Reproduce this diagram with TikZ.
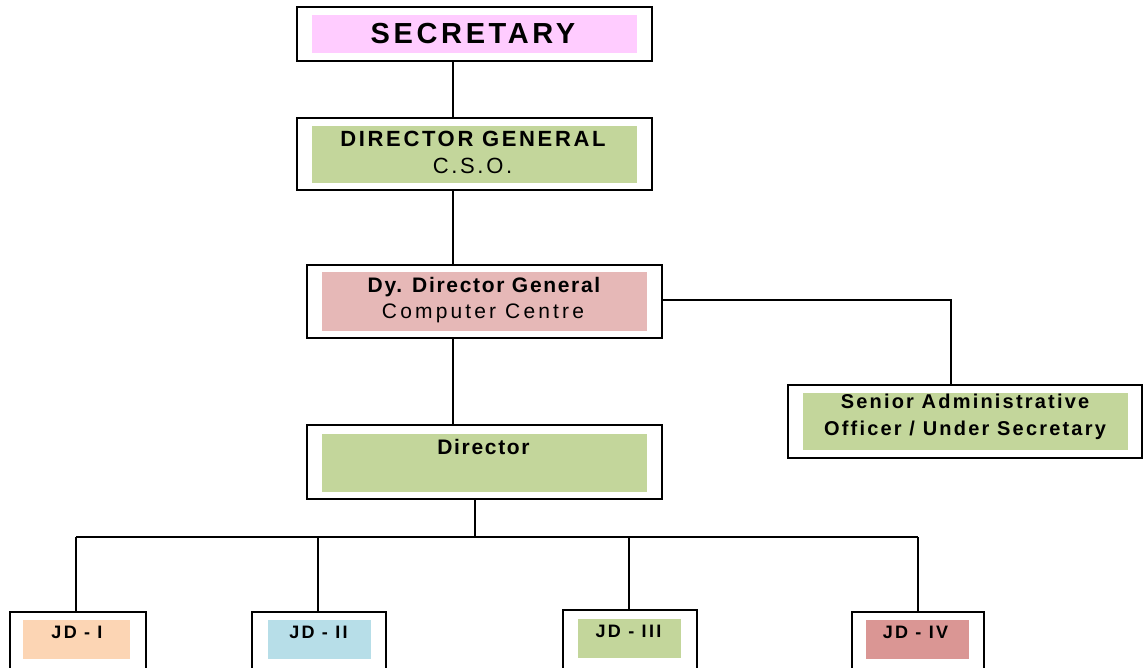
\documentclass[tikz,border=0pt]{standalone}
\usepackage{fontspec}
\setmainfont{Liberation Sans}
\newfontfamily\lsSec[LetterSpace=12.5]{Liberation Sans}
\newfontfamily\lsDG[LetterSpace=12]{Liberation Sans}
\newfontfamily\lsDy[LetterSpace=8]{Liberation Sans}
\newfontfamily\lsCC[LetterSpace=15]{Liberation Sans}
\newfontfamily\lsSAO[LetterSpace=11]{Liberation Sans}
\newfontfamily\lsJD[LetterSpace=13]{Liberation Sans}
\definecolor{pinkS}{HTML}{FFCCFF}
\definecolor{greenB}{HTML}{C3D69B}
\definecolor{roseB}{HTML}{E6B8B7}
\definecolor{peachB}{HTML}{FCD5B4}
\definecolor{blueB}{HTML}{B7DEE8}
\definecolor{redB}{HTML}{DA9694}
\begin{document}
\begin{tikzpicture}[x=1pt,y=-1pt,
  obox/.style={draw=black, line width=1.6pt, fill=white, inner sep=0pt, outer sep=0pt},
  ibox/.style={draw=none, inner sep=0pt, outer sep=0pt},
  txt/.style={inner sep=0pt, anchor=base},
  conn/.style={draw=black, line width=1.6pt}]
\useasboundingbox (0,0) rectangle (1143,667);
% outer boxes
\node[obox, minimum width=355pt, minimum height=54pt] (sec) at (474.5,34) {};
\node[obox, minimum width=355pt, minimum height=72pt] (dg) at (474.5,154) {};
\node[obox, minimum width=355pt, minimum height=73pt] (dydg) at (484.5,301.5) {};
\node[obox, minimum width=355pt, minimum height=74pt] (dir) at (484.5,462) {};
\node[obox, minimum width=354pt, minimum height=73pt] (sao) at (965,421.5) {};
\node[obox, minimum width=136pt, minimum height=60pt] (jd1) at (78,642) {};
\node[obox, minimum width=134pt, minimum height=60pt] (jd2) at (319,642) {};
\node[obox, minimum width=134pt, minimum height=62pt] (jd3) at (630,641) {};
\node[obox, minimum width=132pt, minimum height=60pt] (jd4) at (918,642) {};
% inner fills
\node[ibox, fill=pinkS, minimum width=325pt, minimum height=38pt] (secin) at (474.5,34) {};
\node[ibox, fill=greenB, minimum width=325pt, minimum height=57pt] (dgin) at (474.5,154.5) {};
\node[ibox, fill=roseB, minimum width=325pt, minimum height=59pt] (dydgin) at (484.5,301.5) {};
\node[ibox, fill=greenB, minimum width=325pt, minimum height=58pt] (dirin) at (484.5,463) {};
\node[ibox, fill=greenB, minimum width=325pt, minimum height=57pt] (saoin) at (965.5,421.5) {};
\node[ibox, fill=peachB, minimum width=107pt, minimum height=39pt] (jd1in) at (76.5,639.5) {};
\node[ibox, fill=blueB, minimum width=103pt, minimum height=39pt] (jd2in) at (319.5,639.5) {};
\node[ibox, fill=greenB, minimum width=103pt, minimum height=39pt] (jd3in) at (629.5,638.5) {};
\node[ibox, fill=redB, minimum width=103pt, minimum height=39pt] (jd4in) at (917.5,639.5) {};
% texts
\node[txt] (sect) at (473,43) {\lsSec\bfseries\fontsize{29}{34}\selectfont SECRETARY};
\node[txt] (dgt1) at (473,146) {\lsDG\bfseries\fontsize{22}{26}\selectfont DIRECTOR GENERAL};
\node[txt] (dgt2) at (472.5,173) {\lsDG\fontsize{22}{26}\selectfont C.S.O.};
\node[txt] (dyt1) at (484,292) {\lsDy\bfseries\fontsize{21}{25}\selectfont Dy. Director General};
\node[txt] (dyt2) at (483,318) {\lsCC\fontsize{21}{25}\selectfont Computer Centre};
\node[txt] (dirt) at (483.5,454) {\lsDy\bfseries\fontsize{21}{25}\selectfont Director};
\node[txt] (saot1) at (965,408) {\lsSAO\bfseries\fontsize{20}{24}\selectfont Senior Administrative};
\node[txt] (saot2) at (965,435) {\lsSAO\bfseries\fontsize{20}{24}\selectfont Officer / Under Secretary};
\node[txt] (jd1t) at (77,638) {\lsJD\bfseries\fontsize{18}{21}\selectfont JD - I};
\node[txt] (jd2t) at (318.5,638) {\lsJD\bfseries\fontsize{18}{21}\selectfont JD - II};
\node[txt] (jd3t) at (628.5,637) {\lsJD\bfseries\fontsize{18}{21}\selectfont JD - III};
\node[txt] (jd4t) at (915.5,638) {\lsJD\bfseries\fontsize{18}{21}\selectfont JD - IV};
% connectors
\coordinate (spine) at (453,0);
\coordinate (saox) at (951,0);
\coordinate (rowy) at (0,300);
\coordinate (bus) at (475,537);
\coordinate (drop1) at (76,537);
\coordinate (drop2) at (318,537);
\coordinate (drop3) at (629,537);
\coordinate (drop4) at (918,537);
\draw[conn] (sec.south -| spine) -- (dg.north -| spine);
\draw[conn] (dg.south -| spine) -- (dydg.north -| spine);
\draw[conn] (dydg.south -| spine) -- (dir.north -| spine);
\draw[conn] (dydg.east |- rowy) -| (sao.north -| saox);
\draw[conn] (dir.south -| bus) -- (bus);
\draw[conn] (drop1) -- (drop4);
\draw[conn] (drop1) -- (jd1.north -| drop1);
\draw[conn] (drop2) -- (jd2.north -| drop2);
\draw[conn] (drop3) -- (jd3.north -| drop3);
\draw[conn] (drop4) -- (jd4.north -| drop4);
\end{tikzpicture}
\end{document}
